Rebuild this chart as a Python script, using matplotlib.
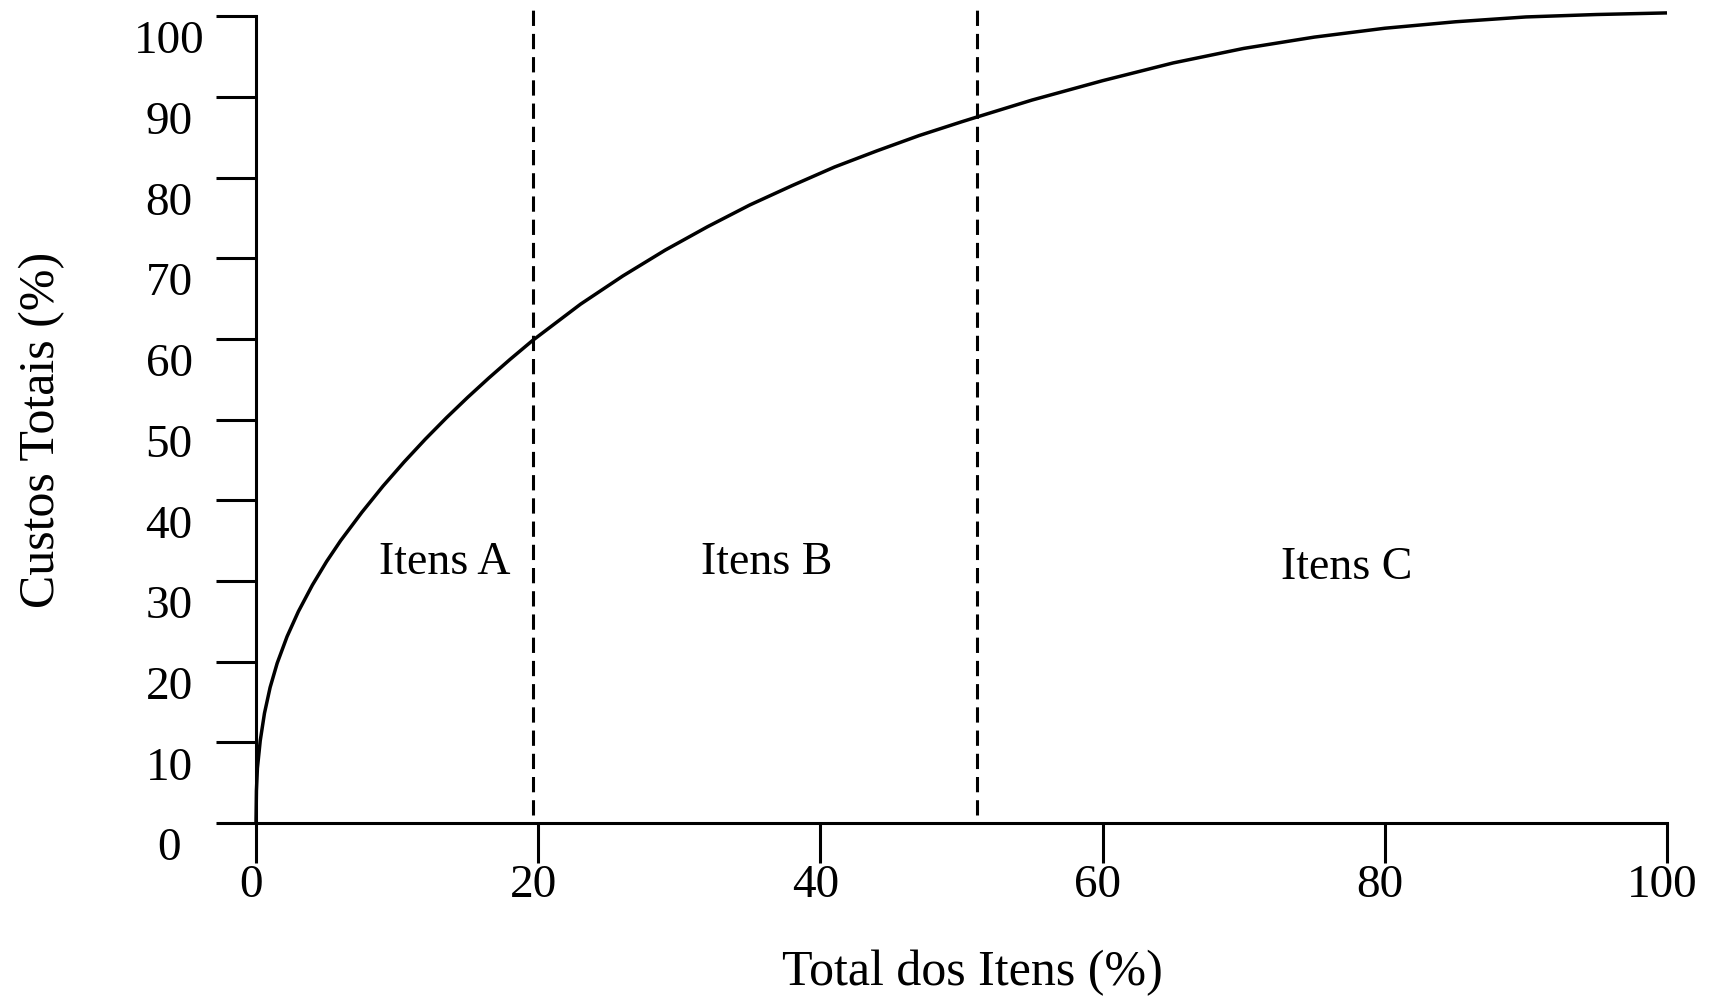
import matplotlib
matplotlib.use('Agg')
import matplotlib.pyplot as plt
from matplotlib.transforms import ScaledTranslation

# curve
itens = [0, 0.03, 0.1, 0.3, 0.6, 1.0, 1.5, 2.2, 3.0, 4.0, 5.0, 6.0, 7.5, 9.0, 10.5,
         12.0, 13.5, 15.0, 16.5, 18.0, 19.6, 23, 26, 29, 32, 35, 38, 41, 44, 47, 50,
         51.1, 55, 60, 65, 70, 75, 80, 85, 90, 95, 100]
custos = [0, 4, 6.8, 10.2, 13.6, 16.8, 19.8, 23.1, 26.2, 29.5, 32.4, 35.0, 38.5, 41.75, 44.75,
          47.57, 50.23, 52.75, 55.15, 57.45, 59.8, 64.3, 67.8, 71.0, 73.9, 76.6, 79.0, 81.3, 83.3, 85.2, 86.9,
          87.5, 89.6, 92.0, 94.2, 96.0, 97.4, 98.5, 99.3, 99.9, 100.2, 100.4]

# class limits (dashed lines) and labels
limites = [19.6, 51.1]
classes = ['Itens A', 'Itens B', 'Itens C']
classe_x = [13.4, 36.2, 77.3]
classe_y = [30.8, 30.8, 30.2]

x_ticks = [0, 20, 40, 60, 80, 100]
y_ticks = [0, 10, 20, 30, 40, 50, 60, 70, 80, 90, 100]

plt.rcParams['font.family'] = ['Liberation Serif', 'DejaVu Serif']

fig = plt.figure(figsize=(17.11, 9.96), dpi=100)
ax = fig.add_axes([256 / 1711, 173 / 996, 1411 / 1711, 823 / 996])

ax.plot(itens, custos, color='black', linewidth=2.5, clip_on=False,
        solid_capstyle='butt', solid_joinstyle='round')
ax.vlines(limites, 1, 101, colors='black', linewidth=2.2, linestyles=(0, (5, 2.6)))

for i in range(len(classes)):
    ax.text(classe_x[i], classe_y[i], classes[i], fontsize=33, ha='center', va='baseline')

ax.set_xlim(0, 100)
ax.set_ylim(0, 102)
ax.spines['top'].set_visible(False)
ax.spines['right'].set_visible(False)
ax.spines['left'].set_bounds(0, 100)
ax.spines['bottom'].set_bounds(0, 100)
ax.spines['left'].set_linewidth(2.2)
ax.spines['bottom'].set_linewidth(2.2)

ax.set_xticks(x_ticks)
ax.set_yticks(y_ticks)
ax.tick_params(axis='both', direction='out', length=28.8, width=2.2, labelsize=34)
ax.tick_params(axis='x', pad=1)
ax.tick_params(axis='y', pad=33.8)

for lab in ax.get_yticklabels():
    lab.set_horizontalalignment('center')
    lab.set_transform(lab.get_transform() + ScaledTranslation(0, -0.21, fig.dpi_scale_trans))
for lab in ax.get_xticklabels():
    lab.set_transform(lab.get_transform() + ScaledTranslation(-0.05, 0, fig.dpi_scale_trans))

ax.set_xlabel('Total dos Itens (%)', fontsize=36, va='center')
ax.set_ylabel('Custos Totais (%)', fontsize=36, va='center')
ax.xaxis.set_label_coords(0.508, -0.182)
ax.yaxis.set_label_coords(-0.1517, 0.4775)

fig.savefig('out.png', dpi=100)
